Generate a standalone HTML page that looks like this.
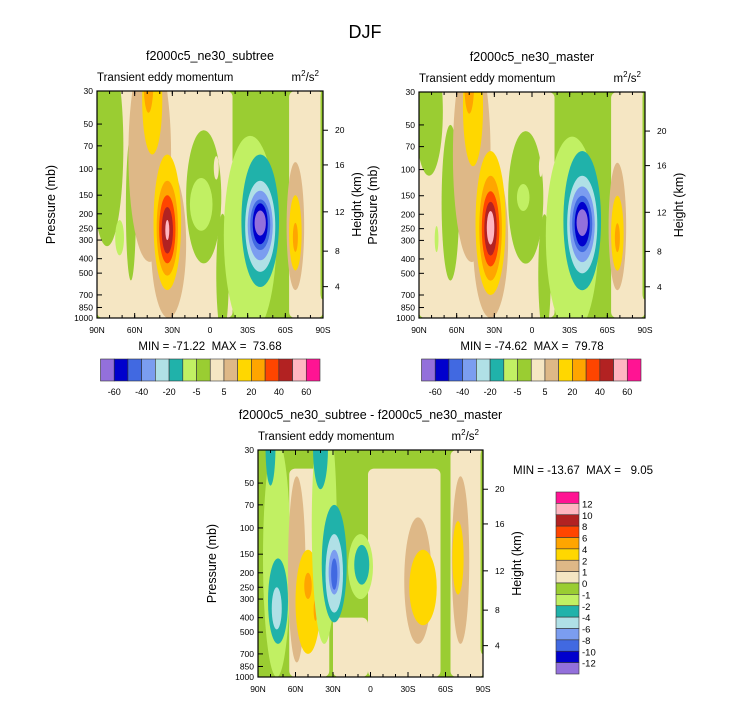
<!DOCTYPE html>
<html><head><meta charset="utf-8"><style>
body{margin:0;background:#fff;}
svg{display:block;font-family:"Liberation Sans",sans-serif;}
</style></head><body>
<svg id="s" width="733" height="701" viewBox="0 0 733 701">
<text x="365" y="38" font-size="18" text-anchor="middle">DJF</text>
</svg>
<script>
// data
const levelColors = ["#9370DB","#0000CD","#4169E1","#7B9DF0","#B0E0E6","#20B2AA","#C1F063","#9ACD32","#F5E6C3","#DEB887","#FFD700","#FFA500","#FF4500","#B22222","#FFB6C1","#FF1493"];
const topTicks = ["-60","-40","-20","-5","5","20","40","60"];
const diffTicks = ["12","10","8","6","4","2","1","0","-1","-2","-4","-6","-8","-10","-12"];
const pTicks = [30,50,70,100,150,200,250,300,400,500,700,850,1000];
const latTicks = [90,60,30,0,-30,-60,-90];
const latLabels = ["90N","60N","30N","0","30S","60S","90S"];
const hTicks = [20,16,12,8,4];
const hTicksP = [55,94,194,356,616];
// bands: [latLeft, latRight, pTop, pBottom, level]
const bandsSub = [[90,-18,30,1000,8],[-18,-64,30,1000,7],[-63,-90,30,1000,8],[-88,-91,30,750,7]];
const bandsMas = [[90,-18,30,1000,8],[-18,-64,30,1000,7],[-63,-90,30,1000,8],[-88,-91,30,750,7]];
const bandsDiff = [[90,65,30,1000,7],[65,33,40,1000,8],[2,-56,40,1000,8],[30,2,400,1000,8],[-64,-91,30,1000,8],[-88,-91,30,700,7]];
// blobs: [lat, pTop, pBottom, halfWidthDeg, level]
const blobsSub = [
 [82,15,330,13,7],[63,60,560,4,7],[5,55,430,14,7],[-10,200,1300,5,7],
 [48,15,420,17,9],[33,100,1000,14,9],
 [46,15,80,8,10],[49,15,42,4,11],
 [34,80,650,11,10],[34,120,520,8.5,11],[34,150,430,6.5,12],[34,180,370,4.5,13],[34,220,300,1.6,14],
 [72,220,380,3.5,6],
 [-32,60,1300,21,6],[7,115,260,9,6],[-5,82,118,2,8],
 [-40,80,620,15,5],[-40,120,490,12,4],[-40,140,410,10,3],[-40,160,350,8,2],[-40,170,320,6,1],[-40,190,280,4.5,0],
 [-68,90,650,7,9],[-68,150,480,5,10],[-68,230,360,2,11]
];
const blobsMas = [
 [82,15,110,11,7],[65,50,560,7,7],[5,55,430,14,7],[-10,200,1300,5,7],
 [48,15,420,15,9],[33,90,1000,14,9],
 [47,15,95,8,10],[50,15,42,4,11],
 [33,75,700,12,10],[33,110,560,9,11],[33,140,450,7,12],[33,165,380,5,13],[33,190,320,3,14],
 [76,240,360,1.5,6],
 [-32,60,1300,21,6],[7,125,190,5,6],[-7,82,112,1.5,8],
 [-40,75,650,15,5],[-40,110,500,12,4],[-40,130,420,10,3],[-40,150,360,8,2],[-40,165,330,6,1],[-40,185,280,4.5,0],
 [-68,90,650,7,9],[-68,150,480,5,10],[-68,230,360,2,11]
];
const blobsDiff = [
 [75,25,1000,11,6],[74,160,600,8,5],[75,250,480,4,4],[80,15,52,4,5],
 [59,45,800,7,9],[50,140,700,10,10],[50,200,300,3,11],[44,300,420,1.5,11],
 [37,15,600,10,6],[40,15,55,6,5],[29,70,430,10,5],[29,110,370,7,4],[29,140,280,4.5,3],[29,160,260,2.5,2],
 [8,110,300,10,6],[7,130,240,6,5],
 [-38,85,600,11,9],[-42,140,450,11,10],
 [-72,45,600,7,9],[-70,90,280,4.5,10]
];
const minmax = [["MIN = -71.22  MAX =  73.68"],["MIN = -74.62  MAX =  79.78"],["MIN = -13.67  MAX =   9.05"]];

const svg=document.getElementById('s');
const NS="http://www.w3.org/2000/svg";
function mk(tag,attrs,parent){const e=document.createElementNS(NS,tag);for(const k in attrs)e.setAttribute(k,attrs[k]);(parent||svg).appendChild(e);return e;}
function txt(x,y,s,size,anchor,parent,rot){const t=mk('text',{x:x,y:y,'font-size':size,'text-anchor':anchor||'start'},parent);if(rot)t.setAttribute('transform','rotate(-90 '+x+' '+y+')');t.textContent=s;t.setAttribute('xml:space','preserve');t.style.whiteSpace='pre';return t;}

function panel(id,X0,Y0,W,H,title,bands,blobs,mm,mmx,mmy,mmAnchor){
 const g=mk('g',{});
 
 
 const xs=lat=>X0+(90-lat)/180*W;
 const ys=p=>Y0+(Math.log(p)-Math.log(30))/(Math.log(1000)-Math.log(30))*H;
 const cid='clip-'+id;
 const cp=mk('clipPath',{id:cid},g);mk('rect',{x:X0,y:Y0,width:W,height:H},cp);
 const pg=mk('g',{'clip-path':'url(#'+cid+')'},g);
 const bg=mk('rect',{x:X0,y:Y0,width:W,height:H,fill:levelColors[7]},pg);
 
 
 bands.forEach(b=>{
  const x1=xs(b[0]),x2=xs(b[1]),y1=ys(b[2]),y2=ys(b[3]);
  const r=mk('rect',{x:x1,y:y1,width:x2-x1,height:y2-y1,rx:6,fill:levelColors[b[4]]},pg);
  
  
 });
 blobs.forEach(b=>{
  const y1=ys(b[1]),y2=ys(b[2]);
  const e=mk('ellipse',{cx:xs(b[0]),cy:(y1+y2)/2,rx:b[3]/180*W,ry:(y2-y1)/2,fill:levelColors[b[4]]},pg);
  
  
 });
 mk('rect',{x:X0,y:Y0,width:W,height:H,fill:'none',stroke:'#000','stroke-width':1.2},g);
 const t=txt(X0+W/2,Y0-31,title,12.5,'middle',g);
 
 const s=txt(X0,Y0-10,'Transient eddy momentum',11.5,'start',g);
 
 const u=mk('text',{x:X0+W-4,y:Y0-10,'font-size':11.5,'text-anchor':'end'},g);
 u.innerHTML='m<tspan font-size="8" dy="-5">2</tspan><tspan dy="5">/s</tspan><tspan font-size="8" dy="-5">2</tspan>';
 
 pTicks.forEach(p=>{const y=ys(p);mk('line',{x1:X0,x2:X0+5,y1:y,y2:y,stroke:'#000'},g);const l=txt(X0-4,y+3,String(p),8.5,'end',g);});
 latTicks.forEach((lt,i)=>{const x=xs(lt);mk('line',{x1:x,x2:x,y1:Y0+H,y2:Y0+H-5,stroke:'#000'},g);mk('line',{x1:x,x2:x,y1:Y0,y2:Y0+5,stroke:'#000'},g);const l=txt(x,Y0+H+15,latLabels[i],8.5,'middle',g);});
 for(let lt=80;lt>-90;lt-=10){const x=xs(lt);mk('line',{x1:x,x2:x,y1:Y0+H,y2:Y0+H-3,stroke:'#000'},g);mk('line',{x1:x,x2:x,y1:Y0,y2:Y0+3,stroke:'#000'},g);}
 hTicks.forEach((h,i)=>{const y=ys(hTicksP[i]);mk('line',{x1:X0+W,x2:X0+W+5,y1:y,y2:y,stroke:'#000'},g);const l=txt(X0+W+12,y+3,String(h),8.5,'start',g);});
 const ya=txt(X0-42,Y0+H/2,'Pressure (mb)',12.5,'middle',g,true);
 const yb=txt(X0+W+38,Y0+H/2,'Height (km)',12.5,'middle',g,true);
 const m=txt(mmx,mmy,mm[0],11.5,mmAnchor,g);
}
panel('panel-subtree',97,91,226,227,'f2000c5_ne30_subtree',bandsSub,blobsSub,minmax[0],210,350,'middle');
panel('panel-master',419,92,226,226,'f2000c5_ne30_master',bandsMas,blobsMas,minmax[1],532,350,'middle');
panel('panel-difference',258,450,225,227,'f2000c5_ne30_subtree - f2000c5_ne30_master',bandsDiff,blobsDiff,minmax[2],513,474,'start');

function hbar(x0,y0,w,h,name){
 const g=mk('g',{});
 
 
 const bw=w/levelColors.length;
 levelColors.forEach((c,i)=>{const r=mk('rect',{x:x0+i*bw,y:y0,width:bw,height:h,fill:c,stroke:'#333','stroke-width':0.6},g);});
 topTicks.forEach((t,i)=>{const l=txt(x0+(2*i+1)*bw,y0+h+14,t,9,'middle',g);});
}
hbar(100.5,359,219.5,22,'colorbar-subtree');
hbar(421.5,359,219.5,22,'colorbar-master');
(function(){
 const x0=556,y0=492,w=23,h=182;
 const g=mk('g',{});
 
 
 const bh=h/levelColors.length;
 levelColors.slice().reverse().forEach((c,i)=>{const r=mk('rect',{x:x0,y:y0+i*bh,width:w,height:bh,fill:c,stroke:'#333','stroke-width':0.6},g);});
 diffTicks.forEach((t,i)=>{const l=txt(x0+w+3,y0+(i+1)*bh+4,t,9.5,'start',g);});
})();
</script>
</body></html>
